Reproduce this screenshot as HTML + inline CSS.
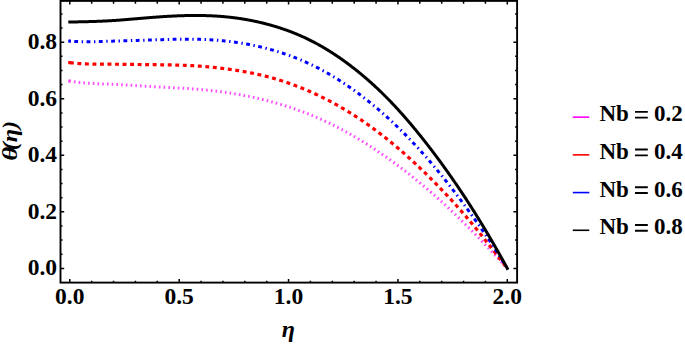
<!DOCTYPE html><html><head><meta charset="utf-8"><style>html,body{margin:0;padding:0;background:#fff;width:685px;height:344px;overflow:hidden}svg{display:block}text{font-family:"Liberation Serif",serif;font-weight:bold;fill:#000}</style></head><body>
<svg width="685" height="344" viewBox="0 0 685 344">
<path d="M68.2,81.10 L69.80,81.10 L70.30,81.18 L70.80,81.27 L71.30,81.35 L71.80,81.43 L72.30,81.50 L72.80,81.58 L73.30,81.65 L73.80,81.73 L74.30,81.80 L74.80,81.86 L75.30,81.93 L75.80,82.00 L76.30,82.06 L76.80,82.12 L77.30,82.18 L77.80,82.24 L78.30,82.30 L78.80,82.35 L79.30,82.41 L79.80,82.46 L80.30,82.52 L80.80,82.57 L81.30,82.61 L81.80,82.66 L82.30,82.71 L82.80,82.76 L83.30,82.80 L83.80,82.84 L84.30,82.89 L84.80,82.93 L85.30,82.97 L85.80,83.00 L86.30,83.04 L86.80,83.08 L87.30,83.12 L87.80,83.15 L88.30,83.18 L88.80,83.22 L89.30,83.25 L89.80,83.28 L90.30,83.31 L90.80,83.34 L91.30,83.37 L91.80,83.40 L92.30,83.43 L92.80,83.45 L93.30,83.48 L93.80,83.51 L94.30,83.53 L94.80,83.55 L95.30,83.58 L95.80,83.60 L96.30,83.63 L96.80,83.65 L97.30,83.67 L97.80,83.69 L98.30,83.71 L98.80,83.74 L99.30,83.76 L99.80,83.78 L100.30,83.80 L100.80,83.82 L101.30,83.84 L101.80,83.86 L102.30,83.88 L102.80,83.90 L103.30,83.92 L103.80,83.94 L104.30,83.95 L104.80,83.97 L105.30,83.99 L105.80,84.01 L106.30,84.03 L106.80,84.05 L107.30,84.07 L107.80,84.09 L108.30,84.11 L108.80,84.13 L109.30,84.15 L109.80,84.18 L110.30,84.20 L110.80,84.22 L111.30,84.24 L111.80,84.26 L112.30,84.29 L112.80,84.31 L113.30,84.33 L113.80,84.36 L114.30,84.38 L114.80,84.40 L115.30,84.43 L115.80,84.45 L116.30,84.48 L116.80,84.50 L117.30,84.53 L117.80,84.55 L118.30,84.58 L118.80,84.60 L119.30,84.63 L119.80,84.66 L120.30,84.68 L120.80,84.71 L121.30,84.74 L121.80,84.76 L122.30,84.79 L122.80,84.82 L123.30,84.85 L123.80,84.87 L124.30,84.90 L124.80,84.93 L125.30,84.96 L125.80,84.99 L126.30,85.01 L126.80,85.04 L127.30,85.07 L127.80,85.10 L128.30,85.13 L128.80,85.16 L129.30,85.19 L129.80,85.22 L130.30,85.25 L130.80,85.28 L131.30,85.31 L131.80,85.33 L132.30,85.36 L132.80,85.39 L133.30,85.42 L133.80,85.45 L134.30,85.48 L134.80,85.51 L135.30,85.54 L135.80,85.57 L136.30,85.60 L136.80,85.63 L137.30,85.66 L137.80,85.69 L138.30,85.72 L138.80,85.75 L139.30,85.78 L139.80,85.81 L140.30,85.84 L140.80,85.87 L141.30,85.90 L141.80,85.93 L142.30,85.96 L142.80,85.99 L143.30,86.02 L143.80,86.05 L144.30,86.08 L144.80,86.11 L145.30,86.14 L145.80,86.17 L146.30,86.20 L146.80,86.23 L147.30,86.26 L147.80,86.28 L148.30,86.31 L148.80,86.34 L149.30,86.37 L149.80,86.40 L150.30,86.43 L150.80,86.45 L151.30,86.48 L151.80,86.51 L152.30,86.54 L152.80,86.57 L153.30,86.59 L153.80,86.62 L154.30,86.65 L154.80,86.67 L155.30,86.70 L155.80,86.73 L156.30,86.76 L156.80,86.78 L157.30,86.81 L157.80,86.84 L158.30,86.86 L158.80,86.89 L159.30,86.92 L159.80,86.94 L160.30,86.97 L160.80,87.00 L161.30,87.02 L161.80,87.05 L162.30,87.08 L162.80,87.10 L163.30,87.13 L163.80,87.15 L164.30,87.18 L164.80,87.21 L165.30,87.23 L165.80,87.26 L166.30,87.29 L166.80,87.31 L167.30,87.34 L167.80,87.37 L168.30,87.40 L168.80,87.42 L169.30,87.45 L169.80,87.48 L170.30,87.50 L170.80,87.53 L171.30,87.56 L171.80,87.59 L172.30,87.61 L172.80,87.64 L173.30,87.67 L173.80,87.70 L174.30,87.73 L174.80,87.75 L175.30,87.78 L175.80,87.81 L176.30,87.84 L176.80,87.87 L177.30,87.90 L177.80,87.93 L178.30,87.96 L178.80,87.99 L179.30,88.02 L179.80,88.05 L180.30,88.08 L180.80,88.11 L181.30,88.14 L181.80,88.17 L182.30,88.20 L182.80,88.23 L183.30,88.26 L183.80,88.30 L184.30,88.33 L184.80,88.36 L185.30,88.39 L185.80,88.43 L186.30,88.46 L186.80,88.49 L187.30,88.53 L187.80,88.56 L188.30,88.60 L188.80,88.63 L189.30,88.67 L189.80,88.70 L190.30,88.74 L190.80,88.77 L191.30,88.81 L191.80,88.85 L192.30,88.88 L192.80,88.92 L193.30,88.96 L193.80,89.00 L194.30,89.04 L194.80,89.08 L195.30,89.11 L195.80,89.15 L196.30,89.19 L196.80,89.23 L197.30,89.28 L197.80,89.32 L198.30,89.36 L198.80,89.40 L199.30,89.44 L199.80,89.49 L200.30,89.53 L200.80,89.57 L201.30,89.62 L201.80,89.66 L202.30,89.71 L202.80,89.75 L203.30,89.80 L203.80,89.84 L204.30,89.89 L204.80,89.94 L205.30,89.99 L205.80,90.03 L206.30,90.08 L206.80,90.13 L207.30,90.18 L207.80,90.23 L208.30,90.28 L208.80,90.33 L209.30,90.38 L209.80,90.44 L210.30,90.49 L210.80,90.54 L211.30,90.60 L211.80,90.65 L212.30,90.70 L212.80,90.76 L213.30,90.82 L213.80,90.87 L214.30,90.93 L214.80,90.99 L215.30,91.04 L215.80,91.10 L216.30,91.16 L216.80,91.22 L217.30,91.28 L217.80,91.34 L218.30,91.40 L218.80,91.47 L219.30,91.53 L219.80,91.59 L220.30,91.66 L220.80,91.72 L221.30,91.79 L221.80,91.85 L222.30,91.92 L222.80,91.98 L223.30,92.05 L223.80,92.12 L224.30,92.19 L224.80,92.26 L225.30,92.33 L225.80,92.40 L226.30,92.47 L226.80,92.54 L227.30,92.62 L227.80,92.69 L228.30,92.76 L228.80,92.84 L229.30,92.91 L229.80,92.99 L230.30,93.07 L230.80,93.14 L231.30,93.22 L231.80,93.30 L232.30,93.38 L232.80,93.46 L233.30,93.54 L233.80,93.62 L234.30,93.71 L234.80,93.79 L235.30,93.87 L235.80,93.96 L236.30,94.04 L236.80,94.13 L237.30,94.22 L237.80,94.30 L238.30,94.39 L238.80,94.48 L239.30,94.57 L239.80,94.66 L240.30,94.75 L240.80,94.84 L241.30,94.93 L241.80,95.03 L242.30,95.12 L242.80,95.21 L243.30,95.31 L243.80,95.41 L244.30,95.50 L244.80,95.60 L245.30,95.70 L245.80,95.79 L246.30,95.89 L246.80,95.99 L247.30,96.09 L247.80,96.20 L248.30,96.30 L248.80,96.40 L249.30,96.50 L249.80,96.61 L250.30,96.71 L250.80,96.82 L251.30,96.93 L251.80,97.03 L252.30,97.14 L252.80,97.25 L253.30,97.36 L253.80,97.47 L254.30,97.58 L254.80,97.69 L255.30,97.80 L255.80,97.91 L256.30,98.03 L256.80,98.14 L257.30,98.25 L257.80,98.37 L258.30,98.49 L258.80,98.60 L259.30,98.72 L259.80,98.84 L260.30,98.96 L260.80,99.08 L261.30,99.20 L261.80,99.32 L262.30,99.44 L262.80,99.56 L263.30,99.69 L263.80,99.81 L264.30,99.93 L264.80,100.06 L265.30,100.19 L265.80,100.31 L266.30,100.44 L266.80,100.57 L267.30,100.70 L267.80,100.83 L268.30,100.96 L268.80,101.09 L269.30,101.22 L269.80,101.35 L270.30,101.48 L270.80,101.62 L271.30,101.75 L271.80,101.89 L272.30,102.02 L272.80,102.16 L273.30,102.30 L273.80,102.44 L274.30,102.57 L274.80,102.71 L275.30,102.85 L275.80,103.00 L276.30,103.14 L276.80,103.28 L277.30,103.42 L277.80,103.57 L278.30,103.71 L278.80,103.86 L279.30,104.00 L279.80,104.15 L280.30,104.30 L280.80,104.45 L281.30,104.60 L281.80,104.75 L282.30,104.90 L282.80,105.05 L283.30,105.20 L283.80,105.36 L284.30,105.51 L284.80,105.67 L285.30,105.82 L285.80,105.98 L286.30,106.14 L286.80,106.30 L287.30,106.46 L287.80,106.62 L288.30,106.78 L288.80,106.94 L289.30,107.10 L289.80,107.27 L290.30,107.43 L290.80,107.60 L291.30,107.76 L291.80,107.93 L292.30,108.10 L292.80,108.27 L293.30,108.44 L293.80,108.61 L294.30,108.78 L294.80,108.95 L295.30,109.12 L295.80,109.30 L296.30,109.47 L296.80,109.65 L297.30,109.83 L297.80,110.00 L298.30,110.18 L298.80,110.36 L299.30,110.54 L299.80,110.72 L300.30,110.91 L300.80,111.09 L301.30,111.27 L301.80,111.46 L302.30,111.65 L302.80,111.83 L303.30,112.02 L303.80,112.21 L304.30,112.40 L304.80,112.59 L305.30,112.78 L305.80,112.98 L306.30,113.17 L306.80,113.37 L307.30,113.56 L307.80,113.76 L308.30,113.96 L308.80,114.16 L309.30,114.36 L309.80,114.56 L310.30,114.76 L310.80,114.96 L311.30,115.17 L311.80,115.37 L312.30,115.58 L312.80,115.78 L313.30,115.99 L313.80,116.20 L314.30,116.41 L314.80,116.62 L315.30,116.83 L315.80,117.05 L316.30,117.26 L316.80,117.48 L317.30,117.69 L317.80,117.91 L318.30,118.13 L318.80,118.35 L319.30,118.57 L319.80,118.79 L320.30,119.01 L320.80,119.23 L321.30,119.46 L321.80,119.68 L322.30,119.91 L322.80,120.14 L323.30,120.37 L323.80,120.60 L324.30,120.83 L324.80,121.06 L325.30,121.29 L325.80,121.52 L326.30,121.76 L326.80,121.99 L327.30,122.23 L327.80,122.47 L328.30,122.71 L328.80,122.95 L329.30,123.19 L329.80,123.43 L330.30,123.67 L330.80,123.91 L331.30,124.16 L331.80,124.40 L332.30,124.65 L332.80,124.90 L333.30,125.15 L333.80,125.40 L334.30,125.65 L334.80,125.90 L335.30,126.15 L335.80,126.41 L336.30,126.66 L336.80,126.92 L337.30,127.17 L337.80,127.43 L338.30,127.69 L338.80,127.95 L339.30,128.21 L339.80,128.47 L340.30,128.74 L340.80,129.00 L341.30,129.26 L341.80,129.53 L342.30,129.80 L342.80,130.07 L343.30,130.33 L343.80,130.60 L344.30,130.88 L344.80,131.15 L345.30,131.42 L345.80,131.70 L346.30,131.97 L346.80,132.25 L347.30,132.52 L347.80,132.80 L348.30,133.08 L348.80,133.36 L349.30,133.64 L349.80,133.93 L350.30,134.21 L350.80,134.49 L351.30,134.78 L351.80,135.07 L352.30,135.35 L352.80,135.64 L353.30,135.93 L353.80,136.22 L354.30,136.51 L354.80,136.81 L355.30,137.10 L355.80,137.39 L356.30,137.69 L356.80,137.99 L357.30,138.28 L357.80,138.58 L358.30,138.88 L358.80,139.18 L359.30,139.48 L359.80,139.78 L360.30,140.09 L360.80,140.39 L361.30,140.70 L361.80,141.00 L362.30,141.31 L362.80,141.62 L363.30,141.93 L363.80,142.24 L364.30,142.55 L364.80,142.86 L365.30,143.18 L365.80,143.49 L366.30,143.81 L366.80,144.12 L367.30,144.44 L367.80,144.76 L368.30,145.07 L368.80,145.39 L369.30,145.72 L369.80,146.04 L370.30,146.36 L370.80,146.68 L371.30,147.01 L371.80,147.33 L372.30,147.66 L372.80,147.99 L373.30,148.32 L373.80,148.64 L374.30,148.97 L374.80,149.31 L375.30,149.64 L375.80,149.97 L376.30,150.30 L376.80,150.64 L377.30,150.97 L377.80,151.31 L378.30,151.65 L378.80,151.99 L379.30,152.33 L379.80,152.67 L380.30,153.01 L380.80,153.35 L381.30,153.69 L381.80,154.04 L382.30,154.38 L382.80,154.73 L383.30,155.07 L383.80,155.42 L384.30,155.77 L384.80,156.12 L385.30,156.47 L385.80,156.82 L386.30,157.17 L386.80,157.52 L387.30,157.88 L387.80,158.23 L388.30,158.59 L388.80,158.94 L389.30,159.30 L389.80,159.66 L390.30,160.02 L390.80,160.38 L391.30,160.74 L391.80,161.10 L392.30,161.46 L392.80,161.82 L393.30,162.19 L393.80,162.55 L394.30,162.92 L394.80,163.28 L395.30,163.65 L395.80,164.02 L396.30,164.39 L396.80,164.76 L397.30,165.13 L397.80,165.50 L398.30,165.87 L398.80,166.25 L399.30,166.62 L399.80,167.00 L400.30,167.37 L400.80,167.75 L401.30,168.13 L401.80,168.51 L402.30,168.89 L402.80,169.27 L403.30,169.65 L403.80,170.03 L404.30,170.42 L404.80,170.80 L405.30,171.19 L405.80,171.57 L406.30,171.96 L406.80,172.35 L407.30,172.74 L407.80,173.13 L408.30,173.52 L408.80,173.91 L409.30,174.30 L409.80,174.70 L410.30,175.09 L410.80,175.49 L411.30,175.89 L411.80,176.28 L412.30,176.68 L412.80,177.08 L413.30,177.48 L413.80,177.88 L414.30,178.28 L414.80,178.69 L415.30,179.09 L415.80,179.50 L416.30,179.90 L416.80,180.31 L417.30,180.72 L417.80,181.13 L418.30,181.54 L418.80,181.95 L419.30,182.36 L419.80,182.77 L420.30,183.18 L420.80,183.60 L421.30,184.01 L421.80,184.43 L422.30,184.85 L422.80,185.27 L423.30,185.69 L423.80,186.11 L424.30,186.53 L424.80,186.95 L425.30,187.37 L425.80,187.80 L426.30,188.22 L426.80,188.65 L427.30,189.08 L427.80,189.51 L428.30,189.94 L428.80,190.37 L429.30,190.80 L429.80,191.23 L430.30,191.66 L430.80,192.10 L431.30,192.53 L431.80,192.97 L432.30,193.41 L432.80,193.84 L433.30,194.28 L433.80,194.72 L434.30,195.16 L434.80,195.61 L435.30,196.05 L435.80,196.49 L436.30,196.94 L436.80,197.38 L437.30,197.83 L437.80,198.28 L438.30,198.73 L438.80,199.18 L439.30,199.63 L439.80,200.08 L440.30,200.53 L440.80,200.99 L441.30,201.44 L441.80,201.90 L442.30,202.35 L442.80,202.81 L443.30,203.27 L443.80,203.73 L444.30,204.19 L444.80,204.65 L445.30,205.11 L445.80,205.57 L446.30,206.04 L446.80,206.50 L447.30,206.97 L447.80,207.43 L448.30,207.90 L448.80,208.37 L449.30,208.84 L449.80,209.31 L450.30,209.78 L450.80,210.25 L451.30,210.72 L451.80,211.20 L452.30,211.67 L452.80,212.15 L453.30,212.62 L453.80,213.10 L454.30,213.58 L454.80,214.06 L455.30,214.54 L455.80,215.02 L456.30,215.50 L456.80,215.98 L457.30,216.46 L457.80,216.95 L458.30,217.43 L458.80,217.92 L459.30,218.40 L459.80,218.89 L460.30,219.38 L460.80,219.87 L461.30,220.36 L461.80,220.85 L462.30,221.34 L462.80,221.83 L463.30,222.32 L463.80,222.82 L464.30,223.31 L464.80,223.81 L465.30,224.30 L465.80,224.80 L466.30,225.30 L466.80,225.80 L467.30,226.30 L467.80,226.80 L468.30,227.30 L468.80,227.80 L469.30,228.30 L469.80,228.80 L470.30,229.31 L470.80,229.81 L471.30,230.32 L471.80,230.83 L472.30,231.33 L472.80,231.84 L473.30,232.35 L473.80,232.86 L474.30,233.37 L474.80,233.88 L475.30,234.39 L475.80,234.90 L476.30,235.42 L476.80,235.93 L477.30,236.44 L477.80,236.96 L478.30,237.47 L478.80,237.99 L479.30,238.51 L479.80,239.03 L480.30,239.54 L480.80,240.06 L481.30,240.58 L481.80,241.10 L482.30,241.62 L482.80,242.15 L483.30,242.67 L483.80,243.19 L484.30,243.72 L484.80,244.24 L485.30,244.77 L485.80,245.29 L486.30,245.82 L486.80,246.34 L487.30,246.87 L487.80,247.40 L488.30,247.93 L488.80,248.46 L489.30,248.99 L489.80,249.52 L490.30,250.05 L490.80,250.58 L491.30,251.11 L491.80,251.64 L492.30,252.18 L492.80,252.71 L493.30,253.24 L493.80,253.78 L494.30,254.31 L494.80,254.85 L495.30,255.39 L495.80,255.92 L496.30,256.46 L496.80,257.00 L497.30,257.54 L497.80,258.08 L498.30,258.61 L498.80,259.15 L499.30,259.69 L499.80,260.24 L500.30,260.78 L500.80,261.32 L501.30,261.86 L501.80,262.40 L502.30,262.95 L502.80,263.49 L503.30,264.03 L503.80,264.58 L504.30,265.12 L504.80,265.67 L505.30,266.21 L505.80,266.76 L506.30,267.31 L506.80,267.85 L507.30,268.40" fill="none" stroke="#ff4cff" stroke-width="3.0" stroke-dasharray="1.6 3.13" stroke-dashoffset="3.66"/>
<path d="M68.2,62.60 L69.80,62.60 L70.30,62.67 L70.80,62.73 L71.30,62.79 L71.80,62.85 L72.30,62.91 L72.80,62.97 L73.30,63.02 L73.80,63.08 L74.30,63.13 L74.80,63.18 L75.30,63.23 L75.80,63.27 L76.30,63.32 L76.80,63.36 L77.30,63.41 L77.80,63.45 L78.30,63.49 L78.80,63.52 L79.30,63.56 L79.80,63.60 L80.30,63.63 L80.80,63.66 L81.30,63.69 L81.80,63.73 L82.30,63.75 L82.80,63.78 L83.30,63.81 L83.80,63.83 L84.30,63.86 L84.80,63.88 L85.30,63.90 L85.80,63.93 L86.30,63.95 L86.80,63.97 L87.30,63.98 L87.80,64.00 L88.30,64.02 L88.80,64.03 L89.30,64.05 L89.80,64.06 L90.30,64.07 L90.80,64.09 L91.30,64.10 L91.80,64.11 L92.30,64.12 L92.80,64.13 L93.30,64.14 L93.80,64.14 L94.30,64.15 L94.80,64.16 L95.30,64.16 L95.80,64.17 L96.30,64.18 L96.80,64.18 L97.30,64.18 L97.80,64.19 L98.30,64.19 L98.80,64.19 L99.30,64.20 L99.80,64.20 L100.30,64.20 L100.80,64.20 L101.30,64.20 L101.80,64.21 L102.30,64.21 L102.80,64.21 L103.30,64.21 L103.80,64.21 L104.30,64.21 L104.80,64.21 L105.30,64.21 L105.80,64.21 L106.30,64.21 L106.80,64.21 L107.30,64.21 L107.80,64.21 L108.30,64.21 L108.80,64.21 L109.30,64.21 L109.80,64.22 L110.30,64.22 L110.80,64.22 L111.30,64.22 L111.80,64.22 L112.30,64.22 L112.80,64.23 L113.30,64.23 L113.80,64.23 L114.30,64.23 L114.80,64.24 L115.30,64.24 L115.80,64.24 L116.30,64.25 L116.80,64.25 L117.30,64.25 L117.80,64.26 L118.30,64.26 L118.80,64.27 L119.30,64.27 L119.80,64.27 L120.30,64.28 L120.80,64.28 L121.30,64.29 L121.80,64.29 L122.30,64.30 L122.80,64.30 L123.30,64.31 L123.80,64.31 L124.30,64.32 L124.80,64.33 L125.30,64.33 L125.80,64.34 L126.30,64.34 L126.80,64.35 L127.30,64.36 L127.80,64.36 L128.30,64.37 L128.80,64.37 L129.30,64.38 L129.80,64.39 L130.30,64.39 L130.80,64.40 L131.30,64.41 L131.80,64.41 L132.30,64.42 L132.80,64.43 L133.30,64.43 L133.80,64.44 L134.30,64.45 L134.80,64.45 L135.30,64.46 L135.80,64.47 L136.30,64.47 L136.80,64.48 L137.30,64.49 L137.80,64.49 L138.30,64.50 L138.80,64.51 L139.30,64.52 L139.80,64.52 L140.30,64.53 L140.80,64.54 L141.30,64.54 L141.80,64.55 L142.30,64.56 L142.80,64.56 L143.30,64.57 L143.80,64.58 L144.30,64.58 L144.80,64.59 L145.30,64.60 L145.80,64.60 L146.30,64.61 L146.80,64.62 L147.30,64.62 L147.80,64.63 L148.30,64.63 L148.80,64.64 L149.30,64.65 L149.80,64.65 L150.30,64.66 L150.80,64.66 L151.30,64.67 L151.80,64.67 L152.30,64.68 L152.80,64.68 L153.30,64.69 L153.80,64.70 L154.30,64.70 L154.80,64.71 L155.30,64.71 L155.80,64.72 L156.30,64.72 L156.80,64.73 L157.30,64.73 L157.80,64.74 L158.30,64.74 L158.80,64.75 L159.30,64.75 L159.80,64.76 L160.30,64.77 L160.80,64.77 L161.30,64.78 L161.80,64.78 L162.30,64.79 L162.80,64.80 L163.30,64.80 L163.80,64.81 L164.30,64.82 L164.80,64.82 L165.30,64.83 L165.80,64.84 L166.30,64.84 L166.80,64.85 L167.30,64.86 L167.80,64.87 L168.30,64.87 L168.80,64.88 L169.30,64.89 L169.80,64.90 L170.30,64.91 L170.80,64.92 L171.30,64.93 L171.80,64.94 L172.30,64.95 L172.80,64.96 L173.30,64.97 L173.80,64.98 L174.30,64.99 L174.80,65.00 L175.30,65.01 L175.80,65.03 L176.30,65.04 L176.80,65.05 L177.30,65.06 L177.80,65.08 L178.30,65.09 L178.80,65.11 L179.30,65.12 L179.80,65.14 L180.30,65.15 L180.80,65.17 L181.30,65.18 L181.80,65.20 L182.30,65.22 L182.80,65.24 L183.30,65.25 L183.80,65.27 L184.30,65.29 L184.80,65.31 L185.30,65.33 L185.80,65.35 L186.30,65.37 L186.80,65.39 L187.30,65.42 L187.80,65.44 L188.30,65.46 L188.80,65.49 L189.30,65.51 L189.80,65.54 L190.30,65.56 L190.80,65.59 L191.30,65.61 L191.80,65.64 L192.30,65.67 L192.80,65.70 L193.30,65.73 L193.80,65.76 L194.30,65.79 L194.80,65.82 L195.30,65.85 L195.80,65.88 L196.30,65.91 L196.80,65.94 L197.30,65.98 L197.80,66.01 L198.30,66.05 L198.80,66.08 L199.30,66.12 L199.80,66.15 L200.30,66.19 L200.80,66.23 L201.30,66.27 L201.80,66.30 L202.30,66.34 L202.80,66.38 L203.30,66.42 L203.80,66.46 L204.30,66.51 L204.80,66.55 L205.30,66.59 L205.80,66.63 L206.30,66.68 L206.80,66.72 L207.30,66.77 L207.80,66.81 L208.30,66.86 L208.80,66.90 L209.30,66.95 L209.80,67.00 L210.30,67.05 L210.80,67.10 L211.30,67.15 L211.80,67.20 L212.30,67.25 L212.80,67.30 L213.30,67.35 L213.80,67.40 L214.30,67.45 L214.80,67.51 L215.30,67.56 L215.80,67.62 L216.30,67.67 L216.80,67.73 L217.30,67.78 L217.80,67.84 L218.30,67.90 L218.80,67.95 L219.30,68.01 L219.80,68.07 L220.30,68.13 L220.80,68.19 L221.30,68.25 L221.80,68.31 L222.30,68.37 L222.80,68.44 L223.30,68.50 L223.80,68.56 L224.30,68.63 L224.80,68.69 L225.30,68.76 L225.80,68.82 L226.30,68.89 L226.80,68.95 L227.30,69.02 L227.80,69.09 L228.30,69.16 L228.80,69.23 L229.30,69.30 L229.80,69.37 L230.30,69.44 L230.80,69.51 L231.30,69.58 L231.80,69.65 L232.30,69.72 L232.80,69.80 L233.30,69.87 L233.80,69.95 L234.30,70.02 L234.80,70.10 L235.30,70.17 L235.80,70.25 L236.30,70.33 L236.80,70.41 L237.30,70.49 L237.80,70.57 L238.30,70.65 L238.80,70.73 L239.30,70.81 L239.80,70.89 L240.30,70.97 L240.80,71.06 L241.30,71.14 L241.80,71.23 L242.30,71.31 L242.80,71.40 L243.30,71.49 L243.80,71.57 L244.30,71.66 L244.80,71.75 L245.30,71.84 L245.80,71.93 L246.30,72.02 L246.80,72.12 L247.30,72.21 L247.80,72.30 L248.30,72.40 L248.80,72.49 L249.30,72.59 L249.80,72.69 L250.30,72.78 L250.80,72.88 L251.30,72.98 L251.80,73.08 L252.30,73.18 L252.80,73.29 L253.30,73.39 L253.80,73.49 L254.30,73.60 L254.80,73.70 L255.30,73.81 L255.80,73.92 L256.30,74.02 L256.80,74.13 L257.30,74.24 L257.80,74.35 L258.30,74.46 L258.80,74.58 L259.30,74.69 L259.80,74.81 L260.30,74.92 L260.80,75.04 L261.30,75.15 L261.80,75.27 L262.30,75.39 L262.80,75.51 L263.30,75.63 L263.80,75.76 L264.30,75.88 L264.80,76.00 L265.30,76.13 L265.80,76.25 L266.30,76.38 L266.80,76.51 L267.30,76.64 L267.80,76.77 L268.30,76.90 L268.80,77.03 L269.30,77.16 L269.80,77.30 L270.30,77.43 L270.80,77.57 L271.30,77.71 L271.80,77.85 L272.30,77.99 L272.80,78.13 L273.30,78.27 L273.80,78.41 L274.30,78.56 L274.80,78.70 L275.30,78.85 L275.80,78.99 L276.30,79.14 L276.80,79.29 L277.30,79.44 L277.80,79.59 L278.30,79.75 L278.80,79.90 L279.30,80.05 L279.80,80.21 L280.30,80.37 L280.80,80.52 L281.30,80.68 L281.80,80.84 L282.30,81.00 L282.80,81.17 L283.30,81.33 L283.80,81.49 L284.30,81.66 L284.80,81.82 L285.30,81.99 L285.80,82.16 L286.30,82.33 L286.80,82.50 L287.30,82.67 L287.80,82.84 L288.30,83.02 L288.80,83.19 L289.30,83.37 L289.80,83.55 L290.30,83.72 L290.80,83.90 L291.30,84.08 L291.80,84.26 L292.30,84.45 L292.80,84.63 L293.30,84.81 L293.80,85.00 L294.30,85.18 L294.80,85.37 L295.30,85.56 L295.80,85.75 L296.30,85.94 L296.80,86.13 L297.30,86.33 L297.80,86.52 L298.30,86.71 L298.80,86.91 L299.30,87.11 L299.80,87.31 L300.30,87.50 L300.80,87.70 L301.30,87.91 L301.80,88.11 L302.30,88.31 L302.80,88.52 L303.30,88.72 L303.80,88.93 L304.30,89.14 L304.80,89.34 L305.30,89.55 L305.80,89.76 L306.30,89.98 L306.80,90.19 L307.30,90.40 L307.80,90.62 L308.30,90.83 L308.80,91.05 L309.30,91.27 L309.80,91.49 L310.30,91.71 L310.80,91.93 L311.30,92.15 L311.80,92.38 L312.30,92.60 L312.80,92.83 L313.30,93.05 L313.80,93.28 L314.30,93.51 L314.80,93.74 L315.30,93.97 L315.80,94.20 L316.30,94.44 L316.80,94.67 L317.30,94.91 L317.80,95.14 L318.30,95.38 L318.80,95.62 L319.30,95.86 L319.80,96.10 L320.30,96.34 L320.80,96.58 L321.30,96.83 L321.80,97.07 L322.30,97.32 L322.80,97.57 L323.30,97.81 L323.80,98.06 L324.30,98.31 L324.80,98.57 L325.30,98.82 L325.80,99.07 L326.30,99.33 L326.80,99.58 L327.30,99.84 L327.80,100.10 L328.30,100.36 L328.80,100.62 L329.30,100.88 L329.80,101.14 L330.30,101.41 L330.80,101.67 L331.30,101.94 L331.80,102.21 L332.30,102.48 L332.80,102.75 L333.30,103.02 L333.80,103.29 L334.30,103.56 L334.80,103.84 L335.30,104.11 L335.80,104.39 L336.30,104.67 L336.80,104.94 L337.30,105.22 L337.80,105.51 L338.30,105.79 L338.80,106.07 L339.30,106.36 L339.80,106.64 L340.30,106.93 L340.80,107.22 L341.30,107.51 L341.80,107.80 L342.30,108.09 L342.80,108.38 L343.30,108.68 L343.80,108.97 L344.30,109.27 L344.80,109.56 L345.30,109.86 L345.80,110.16 L346.30,110.46 L346.80,110.77 L347.30,111.07 L347.80,111.37 L348.30,111.68 L348.80,111.99 L349.30,112.30 L349.80,112.60 L350.30,112.91 L350.80,113.23 L351.30,113.54 L351.80,113.85 L352.30,114.17 L352.80,114.49 L353.30,114.80 L353.80,115.12 L354.30,115.44 L354.80,115.76 L355.30,116.09 L355.80,116.41 L356.30,116.74 L356.80,117.06 L357.30,117.39 L357.80,117.72 L358.30,118.05 L358.80,118.38 L359.30,118.71 L359.80,119.04 L360.30,119.38 L360.80,119.71 L361.30,120.05 L361.80,120.39 L362.30,120.73 L362.80,121.07 L363.30,121.41 L363.80,121.76 L364.30,122.10 L364.80,122.45 L365.30,122.79 L365.80,123.14 L366.30,123.49 L366.80,123.84 L367.30,124.19 L367.80,124.54 L368.30,124.90 L368.80,125.25 L369.30,125.61 L369.80,125.97 L370.30,126.33 L370.80,126.69 L371.30,127.05 L371.80,127.41 L372.30,127.77 L372.80,128.14 L373.30,128.51 L373.80,128.87 L374.30,129.24 L374.80,129.61 L375.30,129.98 L375.80,130.36 L376.30,130.73 L376.80,131.10 L377.30,131.48 L377.80,131.86 L378.30,132.24 L378.80,132.62 L379.30,133.00 L379.80,133.38 L380.30,133.76 L380.80,134.15 L381.30,134.53 L381.80,134.92 L382.30,135.31 L382.80,135.70 L383.30,136.09 L383.80,136.48 L384.30,136.87 L384.80,137.27 L385.30,137.67 L385.80,138.06 L386.30,138.46 L386.80,138.86 L387.30,139.26 L387.80,139.66 L388.30,140.07 L388.80,140.47 L389.30,140.88 L389.80,141.28 L390.30,141.69 L390.80,142.10 L391.30,142.51 L391.80,142.92 L392.30,143.34 L392.80,143.75 L393.30,144.17 L393.80,144.58 L394.30,145.00 L394.80,145.42 L395.30,145.84 L395.80,146.26 L396.30,146.69 L396.80,147.11 L397.30,147.54 L397.80,147.96 L398.30,148.39 L398.80,148.82 L399.30,149.25 L399.80,149.68 L400.30,150.11 L400.80,150.55 L401.30,150.98 L401.80,151.42 L402.30,151.85 L402.80,152.29 L403.30,152.73 L403.80,153.17 L404.30,153.61 L404.80,154.06 L405.30,154.50 L405.80,154.95 L406.30,155.39 L406.80,155.84 L407.30,156.29 L407.80,156.74 L408.30,157.19 L408.80,157.64 L409.30,158.09 L409.80,158.55 L410.30,159.00 L410.80,159.46 L411.30,159.92 L411.80,160.38 L412.30,160.84 L412.80,161.30 L413.30,161.76 L413.80,162.22 L414.30,162.69 L414.80,163.15 L415.30,163.62 L415.80,164.08 L416.30,164.55 L416.80,165.02 L417.30,165.49 L417.80,165.96 L418.30,166.44 L418.80,166.91 L419.30,167.39 L419.80,167.86 L420.30,168.34 L420.80,168.82 L421.30,169.29 L421.80,169.77 L422.30,170.26 L422.80,170.74 L423.30,171.22 L423.80,171.70 L424.30,172.19 L424.80,172.68 L425.30,173.16 L425.80,173.65 L426.30,174.14 L426.80,174.63 L427.30,175.12 L427.80,175.61 L428.30,176.11 L428.80,176.60 L429.30,177.10 L429.80,177.59 L430.30,178.09 L430.80,178.59 L431.30,179.09 L431.80,179.59 L432.30,180.09 L432.80,180.59 L433.30,181.09 L433.80,181.60 L434.30,182.10 L434.80,182.61 L435.30,183.11 L435.80,183.62 L436.30,184.13 L436.80,184.64 L437.30,185.15 L437.80,185.67 L438.30,186.18 L438.80,186.69 L439.30,187.21 L439.80,187.73 L440.30,188.25 L440.80,188.76 L441.30,189.28 L441.80,189.81 L442.30,190.33 L442.80,190.85 L443.30,191.38 L443.80,191.90 L444.30,192.43 L444.80,192.96 L445.30,193.49 L445.80,194.02 L446.30,194.55 L446.80,195.08 L447.30,195.62 L447.80,196.15 L448.30,196.69 L448.80,197.23 L449.30,197.77 L449.80,198.31 L450.30,198.85 L450.80,199.39 L451.30,199.94 L451.80,200.48 L452.30,201.03 L452.80,201.58 L453.30,202.13 L453.80,202.68 L454.30,203.23 L454.80,203.78 L455.30,204.34 L455.80,204.89 L456.30,205.45 L456.80,206.01 L457.30,206.57 L457.80,207.13 L458.30,207.69 L458.80,208.26 L459.30,208.82 L459.80,209.39 L460.30,209.96 L460.80,210.53 L461.30,211.10 L461.80,211.67 L462.30,212.25 L462.80,212.82 L463.30,213.40 L463.80,213.98 L464.30,214.55 L464.80,215.14 L465.30,215.72 L465.80,216.30 L466.30,216.89 L466.80,217.47 L467.30,218.06 L467.80,218.65 L468.30,219.24 L468.80,219.84 L469.30,220.43 L469.80,221.03 L470.30,221.62 L470.80,222.22 L471.30,222.82 L471.80,223.42 L472.30,224.03 L472.80,224.63 L473.30,225.24 L473.80,225.84 L474.30,226.45 L474.80,227.06 L475.30,227.67 L475.80,228.29 L476.30,228.90 L476.80,229.52 L477.30,230.13 L477.80,230.75 L478.30,231.37 L478.80,231.99 L479.30,232.61 L479.80,233.23 L480.30,233.85 L480.80,234.48 L481.30,235.10 L481.80,235.73 L482.30,236.35 L482.80,236.98 L483.30,237.61 L483.80,238.24 L484.30,238.87 L484.80,239.50 L485.30,240.13 L485.80,240.77 L486.30,241.40 L486.80,242.03 L487.30,242.67 L487.80,243.30 L488.30,243.94 L488.80,244.58 L489.30,245.22 L489.80,245.85 L490.30,246.49 L490.80,247.13 L491.30,247.77 L491.80,248.41 L492.30,249.05 L492.80,249.70 L493.30,250.34 L493.80,250.98 L494.30,251.62 L494.80,252.27 L495.30,252.91 L495.80,253.55 L496.30,254.20 L496.80,254.84 L497.30,255.49 L497.80,256.13 L498.30,256.78 L498.80,257.42 L499.30,258.07 L499.80,258.71 L500.30,259.36 L500.80,260.01 L501.30,260.65 L501.80,261.30 L502.30,261.94 L502.80,262.59 L503.30,263.24 L503.80,263.88 L504.30,264.53 L504.80,265.17 L505.30,265.82 L505.80,266.46 L506.30,267.11 L506.80,267.76 L507.30,268.40" fill="none" stroke="#ff0000" stroke-width="3.2" stroke-dasharray="3.9 3.63" stroke-dashoffset="5.8"/>
<path d="M68.2,41.10 L69.80,41.10 L70.30,41.14 L70.80,41.18 L71.30,41.22 L71.80,41.26 L72.30,41.30 L72.80,41.33 L73.30,41.36 L73.80,41.40 L74.30,41.43 L74.80,41.45 L75.30,41.48 L75.80,41.51 L76.30,41.53 L76.80,41.56 L77.30,41.58 L77.80,41.60 L78.30,41.62 L78.80,41.64 L79.30,41.65 L79.80,41.67 L80.30,41.68 L80.80,41.70 L81.30,41.71 L81.80,41.72 L82.30,41.73 L82.80,41.74 L83.30,41.75 L83.80,41.76 L84.30,41.76 L84.80,41.77 L85.30,41.77 L85.80,41.77 L86.30,41.78 L86.80,41.78 L87.30,41.78 L87.80,41.78 L88.30,41.77 L88.80,41.77 L89.30,41.77 L89.80,41.77 L90.30,41.76 L90.80,41.76 L91.30,41.75 L91.80,41.74 L92.30,41.74 L92.80,41.73 L93.30,41.72 L93.80,41.71 L94.30,41.70 L94.80,41.69 L95.30,41.68 L95.80,41.67 L96.30,41.66 L96.80,41.65 L97.30,41.63 L97.80,41.62 L98.30,41.61 L98.80,41.59 L99.30,41.58 L99.80,41.56 L100.30,41.55 L100.80,41.53 L101.30,41.52 L101.80,41.50 L102.30,41.49 L102.80,41.47 L103.30,41.45 L103.80,41.44 L104.30,41.42 L104.80,41.40 L105.30,41.39 L105.80,41.37 L106.30,41.35 L106.80,41.34 L107.30,41.32 L107.80,41.30 L108.30,41.28 L108.80,41.27 L109.30,41.25 L109.80,41.23 L110.30,41.22 L110.80,41.20 L111.30,41.18 L111.80,41.17 L112.30,41.15 L112.80,41.13 L113.30,41.12 L113.80,41.10 L114.30,41.09 L114.80,41.07 L115.30,41.05 L115.80,41.04 L116.30,41.02 L116.80,41.01 L117.30,40.99 L117.80,40.98 L118.30,40.96 L118.80,40.95 L119.30,40.93 L119.80,40.92 L120.30,40.90 L120.80,40.89 L121.30,40.87 L121.80,40.86 L122.30,40.84 L122.80,40.83 L123.30,40.81 L123.80,40.80 L124.30,40.78 L124.80,40.77 L125.30,40.75 L125.80,40.74 L126.30,40.73 L126.80,40.71 L127.30,40.70 L127.80,40.68 L128.30,40.67 L128.80,40.65 L129.30,40.64 L129.80,40.63 L130.30,40.61 L130.80,40.60 L131.30,40.58 L131.80,40.57 L132.30,40.56 L132.80,40.54 L133.30,40.53 L133.80,40.51 L134.30,40.50 L134.80,40.48 L135.30,40.47 L135.80,40.46 L136.30,40.44 L136.80,40.43 L137.30,40.41 L137.80,40.40 L138.30,40.38 L138.80,40.37 L139.30,40.36 L139.80,40.34 L140.30,40.33 L140.80,40.31 L141.30,40.30 L141.80,40.28 L142.30,40.27 L142.80,40.25 L143.30,40.24 L143.80,40.22 L144.30,40.21 L144.80,40.19 L145.30,40.18 L145.80,40.16 L146.30,40.15 L146.80,40.13 L147.30,40.12 L147.80,40.10 L148.30,40.09 L148.80,40.07 L149.30,40.06 L149.80,40.04 L150.30,40.03 L150.80,40.01 L151.30,40.00 L151.80,39.98 L152.30,39.96 L152.80,39.95 L153.30,39.93 L153.80,39.92 L154.30,39.90 L154.80,39.88 L155.30,39.87 L155.80,39.85 L156.30,39.83 L156.80,39.82 L157.30,39.80 L157.80,39.79 L158.30,39.77 L158.80,39.75 L159.30,39.74 L159.80,39.72 L160.30,39.71 L160.80,39.69 L161.30,39.68 L161.80,39.66 L162.30,39.65 L162.80,39.63 L163.30,39.61 L163.80,39.60 L164.30,39.59 L164.80,39.57 L165.30,39.56 L165.80,39.54 L166.30,39.53 L166.80,39.51 L167.30,39.50 L167.80,39.49 L168.30,39.47 L168.80,39.46 L169.30,39.45 L169.80,39.43 L170.30,39.42 L170.80,39.41 L171.30,39.40 L171.80,39.38 L172.30,39.37 L172.80,39.36 L173.30,39.35 L173.80,39.34 L174.30,39.33 L174.80,39.32 L175.30,39.31 L175.80,39.30 L176.30,39.29 L176.80,39.28 L177.30,39.27 L177.80,39.26 L178.30,39.26 L178.80,39.25 L179.30,39.24 L179.80,39.23 L180.30,39.23 L180.80,39.22 L181.30,39.22 L181.80,39.21 L182.30,39.21 L182.80,39.20 L183.30,39.20 L183.80,39.19 L184.30,39.19 L184.80,39.19 L185.30,39.19 L185.80,39.18 L186.30,39.18 L186.80,39.18 L187.30,39.18 L187.80,39.18 L188.30,39.18 L188.80,39.19 L189.30,39.19 L189.80,39.19 L190.30,39.19 L190.80,39.20 L191.30,39.20 L191.80,39.20 L192.30,39.21 L192.80,39.22 L193.30,39.22 L193.80,39.23 L194.30,39.24 L194.80,39.24 L195.30,39.25 L195.80,39.26 L196.30,39.27 L196.80,39.28 L197.30,39.29 L197.80,39.31 L198.30,39.32 L198.80,39.33 L199.30,39.34 L199.80,39.36 L200.30,39.37 L200.80,39.39 L201.30,39.40 L201.80,39.42 L202.30,39.44 L202.80,39.46 L203.30,39.47 L203.80,39.49 L204.30,39.51 L204.80,39.53 L205.30,39.56 L205.80,39.58 L206.30,39.60 L206.80,39.62 L207.30,39.65 L207.80,39.67 L208.30,39.70 L208.80,39.72 L209.30,39.75 L209.80,39.78 L210.30,39.81 L210.80,39.84 L211.30,39.87 L211.80,39.90 L212.30,39.93 L212.80,39.96 L213.30,39.99 L213.80,40.02 L214.30,40.06 L214.80,40.09 L215.30,40.13 L215.80,40.17 L216.30,40.20 L216.80,40.24 L217.30,40.28 L217.80,40.32 L218.30,40.36 L218.80,40.40 L219.30,40.44 L219.80,40.48 L220.30,40.53 L220.80,40.57 L221.30,40.62 L221.80,40.66 L222.30,40.71 L222.80,40.76 L223.30,40.81 L223.80,40.85 L224.30,40.90 L224.80,40.96 L225.30,41.01 L225.80,41.06 L226.30,41.11 L226.80,41.17 L227.30,41.22 L227.80,41.28 L228.30,41.34 L228.80,41.39 L229.30,41.45 L229.80,41.51 L230.30,41.57 L230.80,41.63 L231.30,41.69 L231.80,41.76 L232.30,41.82 L232.80,41.89 L233.30,41.95 L233.80,42.02 L234.30,42.09 L234.80,42.15 L235.30,42.22 L235.80,42.29 L236.30,42.37 L236.80,42.44 L237.30,42.51 L237.80,42.58 L238.30,42.66 L238.80,42.73 L239.30,42.81 L239.80,42.89 L240.30,42.97 L240.80,43.05 L241.30,43.13 L241.80,43.21 L242.30,43.29 L242.80,43.37 L243.30,43.46 L243.80,43.54 L244.30,43.63 L244.80,43.71 L245.30,43.80 L245.80,43.89 L246.30,43.98 L246.80,44.07 L247.30,44.16 L247.80,44.26 L248.30,44.35 L248.80,44.44 L249.30,44.54 L249.80,44.64 L250.30,44.73 L250.80,44.83 L251.30,44.93 L251.80,45.03 L252.30,45.13 L252.80,45.23 L253.30,45.34 L253.80,45.44 L254.30,45.55 L254.80,45.65 L255.30,45.76 L255.80,45.87 L256.30,45.98 L256.80,46.09 L257.30,46.20 L257.80,46.31 L258.30,46.42 L258.80,46.54 L259.30,46.65 L259.80,46.77 L260.30,46.88 L260.80,47.00 L261.30,47.12 L261.80,47.24 L262.30,47.36 L262.80,47.48 L263.30,47.61 L263.80,47.73 L264.30,47.85 L264.80,47.98 L265.30,48.11 L265.80,48.23 L266.30,48.36 L266.80,48.49 L267.30,48.62 L267.80,48.76 L268.30,48.89 L268.80,49.02 L269.30,49.16 L269.80,49.30 L270.30,49.43 L270.80,49.57 L271.30,49.71 L271.80,49.85 L272.30,49.99 L272.80,50.13 L273.30,50.28 L273.80,50.42 L274.30,50.57 L274.80,50.72 L275.30,50.86 L275.80,51.01 L276.30,51.16 L276.80,51.31 L277.30,51.47 L277.80,51.62 L278.30,51.77 L278.80,51.93 L279.30,52.09 L279.80,52.24 L280.30,52.40 L280.80,52.56 L281.30,52.72 L281.80,52.89 L282.30,53.05 L282.80,53.21 L283.30,53.38 L283.80,53.55 L284.30,53.71 L284.80,53.88 L285.30,54.05 L285.80,54.23 L286.30,54.40 L286.80,54.57 L287.30,54.75 L287.80,54.93 L288.30,55.10 L288.80,55.28 L289.30,55.46 L289.80,55.64 L290.30,55.83 L290.80,56.01 L291.30,56.20 L291.80,56.38 L292.30,56.57 L292.80,56.76 L293.30,56.95 L293.80,57.14 L294.30,57.33 L294.80,57.53 L295.30,57.72 L295.80,57.92 L296.30,58.12 L296.80,58.31 L297.30,58.51 L297.80,58.72 L298.30,58.92 L298.80,59.12 L299.30,59.33 L299.80,59.54 L300.30,59.74 L300.80,59.95 L301.30,60.17 L301.80,60.38 L302.30,60.59 L302.80,60.81 L303.30,61.02 L303.80,61.24 L304.30,61.46 L304.80,61.68 L305.30,61.90 L305.80,62.12 L306.30,62.35 L306.80,62.58 L307.30,62.80 L307.80,63.03 L308.30,63.26 L308.80,63.49 L309.30,63.73 L309.80,63.96 L310.30,64.20 L310.80,64.43 L311.30,64.67 L311.80,64.91 L312.30,65.15 L312.80,65.40 L313.30,65.64 L313.80,65.89 L314.30,66.14 L314.80,66.38 L315.30,66.63 L315.80,66.89 L316.30,67.14 L316.80,67.39 L317.30,67.65 L317.80,67.91 L318.30,68.17 L318.80,68.43 L319.30,68.69 L319.80,68.95 L320.30,69.21 L320.80,69.48 L321.30,69.75 L321.80,70.02 L322.30,70.29 L322.80,70.56 L323.30,70.83 L323.80,71.10 L324.30,71.38 L324.80,71.66 L325.30,71.94 L325.80,72.21 L326.30,72.50 L326.80,72.78 L327.30,73.06 L327.80,73.35 L328.30,73.64 L328.80,73.92 L329.30,74.21 L329.80,74.50 L330.30,74.80 L330.80,75.09 L331.30,75.39 L331.80,75.68 L332.30,75.98 L332.80,76.28 L333.30,76.58 L333.80,76.88 L334.30,77.19 L334.80,77.49 L335.30,77.80 L335.80,78.11 L336.30,78.42 L336.80,78.73 L337.30,79.04 L337.80,79.35 L338.30,79.67 L338.80,79.99 L339.30,80.30 L339.80,80.62 L340.30,80.94 L340.80,81.26 L341.30,81.59 L341.80,81.91 L342.30,82.24 L342.80,82.57 L343.30,82.90 L343.80,83.23 L344.30,83.56 L344.80,83.89 L345.30,84.23 L345.80,84.56 L346.30,84.90 L346.80,85.24 L347.30,85.58 L347.80,85.92 L348.30,86.26 L348.80,86.61 L349.30,86.95 L349.80,87.30 L350.30,87.65 L350.80,88.00 L351.30,88.35 L351.80,88.70 L352.30,89.05 L352.80,89.41 L353.30,89.77 L353.80,90.12 L354.30,90.48 L354.80,90.84 L355.30,91.21 L355.80,91.57 L356.30,91.94 L356.80,92.30 L357.30,92.67 L357.80,93.04 L358.30,93.41 L358.80,93.78 L359.30,94.16 L359.80,94.53 L360.30,94.91 L360.80,95.28 L361.30,95.66 L361.80,96.04 L362.30,96.43 L362.80,96.81 L363.30,97.19 L363.80,97.58 L364.30,97.97 L364.80,98.36 L365.30,98.75 L365.80,99.14 L366.30,99.53 L366.80,99.93 L367.30,100.32 L367.80,100.72 L368.30,101.12 L368.80,101.52 L369.30,101.92 L369.80,102.32 L370.30,102.73 L370.80,103.13 L371.30,103.54 L371.80,103.95 L372.30,104.36 L372.80,104.77 L373.30,105.19 L373.80,105.60 L374.30,106.02 L374.80,106.43 L375.30,106.85 L375.80,107.27 L376.30,107.69 L376.80,108.12 L377.30,108.54 L377.80,108.97 L378.30,109.40 L378.80,109.83 L379.30,110.26 L379.80,110.69 L380.30,111.12 L380.80,111.56 L381.30,111.99 L381.80,112.43 L382.30,112.87 L382.80,113.31 L383.30,113.75 L383.80,114.19 L384.30,114.64 L384.80,115.09 L385.30,115.53 L385.80,115.98 L386.30,116.43 L386.80,116.88 L387.30,117.34 L387.80,117.79 L388.30,118.25 L388.80,118.71 L389.30,119.17 L389.80,119.63 L390.30,120.09 L390.80,120.55 L391.30,121.02 L391.80,121.49 L392.30,121.95 L392.80,122.42 L393.30,122.90 L393.80,123.37 L394.30,123.84 L394.80,124.32 L395.30,124.79 L395.80,125.27 L396.30,125.75 L396.80,126.23 L397.30,126.72 L397.80,127.20 L398.30,127.69 L398.80,128.18 L399.30,128.66 L399.80,129.15 L400.30,129.65 L400.80,130.14 L401.30,130.63 L401.80,131.13 L402.30,131.63 L402.80,132.13 L403.30,132.63 L403.80,133.13 L404.30,133.64 L404.80,134.14 L405.30,134.65 L405.80,135.16 L406.30,135.67 L406.80,136.18 L407.30,136.69 L407.80,137.20 L408.30,137.72 L408.80,138.24 L409.30,138.76 L409.80,139.28 L410.30,139.80 L410.80,140.32 L411.30,140.85 L411.80,141.37 L412.30,141.90 L412.80,142.43 L413.30,142.96 L413.80,143.49 L414.30,144.03 L414.80,144.56 L415.30,145.10 L415.80,145.64 L416.30,146.18 L416.80,146.72 L417.30,147.26 L417.80,147.81 L418.30,148.35 L418.80,148.90 L419.30,149.45 L419.80,150.00 L420.30,150.55 L420.80,151.10 L421.30,151.66 L421.80,152.22 L422.30,152.78 L422.80,153.33 L423.30,153.90 L423.80,154.46 L424.30,155.02 L424.80,155.59 L425.30,156.16 L425.80,156.73 L426.30,157.30 L426.80,157.87 L427.30,158.44 L427.80,159.02 L428.30,159.59 L428.80,160.17 L429.30,160.75 L429.80,161.33 L430.30,161.92 L430.80,162.50 L431.30,163.09 L431.80,163.67 L432.30,164.26 L432.80,164.85 L433.30,165.45 L433.80,166.04 L434.30,166.64 L434.80,167.23 L435.30,167.83 L435.80,168.43 L436.30,169.03 L436.80,169.63 L437.30,170.24 L437.80,170.84 L438.30,171.45 L438.80,172.06 L439.30,172.67 L439.80,173.28 L440.30,173.89 L440.80,174.51 L441.30,175.12 L441.80,175.74 L442.30,176.36 L442.80,176.98 L443.30,177.60 L443.80,178.22 L444.30,178.85 L444.80,179.47 L445.30,180.10 L445.80,180.73 L446.30,181.36 L446.80,181.99 L447.30,182.62 L447.80,183.25 L448.30,183.89 L448.80,184.53 L449.30,185.16 L449.80,185.80 L450.30,186.44 L450.80,187.09 L451.30,187.73 L451.80,188.37 L452.30,189.02 L452.80,189.67 L453.30,190.31 L453.80,190.96 L454.30,191.62 L454.80,192.27 L455.30,192.92 L455.80,193.58 L456.30,194.23 L456.80,194.89 L457.30,195.55 L457.80,196.21 L458.30,196.87 L458.80,197.53 L459.30,198.19 L459.80,198.86 L460.30,199.53 L460.80,200.19 L461.30,200.86 L461.80,201.53 L462.30,202.20 L462.80,202.87 L463.30,203.55 L463.80,204.22 L464.30,204.90 L464.80,205.57 L465.30,206.25 L465.80,206.93 L466.30,207.61 L466.80,208.29 L467.30,208.98 L467.80,209.66 L468.30,210.34 L468.80,211.03 L469.30,211.72 L469.80,212.41 L470.30,213.10 L470.80,213.79 L471.30,214.48 L471.80,215.17 L472.30,215.86 L472.80,216.56 L473.30,217.26 L473.80,217.95 L474.30,218.65 L474.80,219.35 L475.30,220.05 L475.80,220.76 L476.30,221.46 L476.80,222.17 L477.30,222.87 L477.80,223.58 L478.30,224.29 L478.80,225.00 L479.30,225.72 L479.80,226.43 L480.30,227.14 L480.80,227.86 L481.30,228.58 L481.80,229.30 L482.30,230.02 L482.80,230.74 L483.30,231.47 L483.80,232.19 L484.30,232.92 L484.80,233.65 L485.30,234.38 L485.80,235.11 L486.30,235.85 L486.80,236.58 L487.30,237.32 L487.80,238.06 L488.30,238.80 L488.80,239.54 L489.30,240.29 L489.80,241.03 L490.30,241.78 L490.80,242.53 L491.30,243.28 L491.80,244.04 L492.30,244.79 L492.80,245.55 L493.30,246.31 L493.80,247.07 L494.30,247.83 L494.80,248.60 L495.30,249.36 L495.80,250.13 L496.30,250.90 L496.80,251.68 L497.30,252.45 L497.80,253.23 L498.30,254.01 L498.80,254.79 L499.30,255.57 L499.80,256.36 L500.30,257.14 L500.80,257.93 L501.30,258.72 L501.80,259.52 L502.30,260.31 L502.80,261.11 L503.30,261.91 L503.80,262.72 L504.30,263.52 L504.80,264.33 L505.30,265.14 L505.80,265.95 L506.30,266.76 L506.80,267.58 L507.30,268.40" fill="none" stroke="#0000ff" stroke-width="3.0" stroke-dasharray="3.8 3.6 1.4 3.5" stroke-dashoffset="6.2"/>
<path d="M69.8,22.05 L69.80,22.05 L70.30,22.04 L70.80,22.03 L71.30,22.02 L71.80,22.01 L72.30,22.00 L72.80,21.99 L73.30,21.98 L73.80,21.97 L74.30,21.96 L74.80,21.95 L75.30,21.94 L75.80,21.93 L76.30,21.92 L76.80,21.91 L77.30,21.89 L77.80,21.88 L78.30,21.87 L78.80,21.86 L79.30,21.85 L79.80,21.84 L80.30,21.83 L80.80,21.82 L81.30,21.81 L81.80,21.80 L82.30,21.78 L82.80,21.77 L83.30,21.76 L83.80,21.75 L84.30,21.74 L84.80,21.72 L85.30,21.71 L85.80,21.70 L86.30,21.69 L86.80,21.67 L87.30,21.66 L87.80,21.65 L88.30,21.63 L88.80,21.62 L89.30,21.61 L89.80,21.59 L90.30,21.58 L90.80,21.56 L91.30,21.55 L91.80,21.53 L92.30,21.52 L92.80,21.50 L93.30,21.49 L93.80,21.47 L94.30,21.45 L94.80,21.44 L95.30,21.42 L95.80,21.40 L96.30,21.38 L96.80,21.37 L97.30,21.35 L97.80,21.33 L98.30,21.31 L98.80,21.29 L99.30,21.27 L99.80,21.25 L100.30,21.23 L100.80,21.21 L101.30,21.19 L101.80,21.16 L102.30,21.14 L102.80,21.12 L103.30,21.10 L103.80,21.07 L104.30,21.05 L104.80,21.03 L105.30,21.00 L105.80,20.98 L106.30,20.95 L106.80,20.92 L107.30,20.90 L107.80,20.87 L108.30,20.84 L108.80,20.82 L109.30,20.79 L109.80,20.76 L110.30,20.73 L110.80,20.70 L111.30,20.67 L111.80,20.64 L112.30,20.61 L112.80,20.58 L113.30,20.54 L113.80,20.51 L114.30,20.48 L114.80,20.44 L115.30,20.41 L115.80,20.38 L116.30,20.34 L116.80,20.31 L117.30,20.27 L117.80,20.24 L118.30,20.20 L118.80,20.16 L119.30,20.13 L119.80,20.09 L120.30,20.05 L120.80,20.01 L121.30,19.98 L121.80,19.94 L122.30,19.90 L122.80,19.86 L123.30,19.82 L123.80,19.78 L124.30,19.74 L124.80,19.70 L125.30,19.66 L125.80,19.62 L126.30,19.58 L126.80,19.54 L127.30,19.50 L127.80,19.46 L128.30,19.41 L128.80,19.37 L129.30,19.33 L129.80,19.29 L130.30,19.25 L130.80,19.21 L131.30,19.16 L131.80,19.12 L132.30,19.08 L132.80,19.04 L133.30,18.99 L133.80,18.95 L134.30,18.91 L134.80,18.87 L135.30,18.82 L135.80,18.78 L136.30,18.74 L136.80,18.69 L137.30,18.65 L137.80,18.61 L138.30,18.56 L138.80,18.52 L139.30,18.48 L139.80,18.44 L140.30,18.39 L140.80,18.35 L141.30,18.31 L141.80,18.27 L142.30,18.22 L142.80,18.18 L143.30,18.14 L143.80,18.10 L144.30,18.05 L144.80,18.01 L145.30,17.97 L145.80,17.93 L146.30,17.89 L146.80,17.85 L147.30,17.80 L147.80,17.76 L148.30,17.72 L148.80,17.68 L149.30,17.64 L149.80,17.60 L150.30,17.56 L150.80,17.52 L151.30,17.48 L151.80,17.44 L152.30,17.40 L152.80,17.37 L153.30,17.33 L153.80,17.29 L154.30,17.25 L154.80,17.21 L155.30,17.18 L155.80,17.14 L156.30,17.10 L156.80,17.07 L157.30,17.03 L157.80,16.99 L158.30,16.96 L158.80,16.92 L159.30,16.89 L159.80,16.85 L160.30,16.82 L160.80,16.79 L161.30,16.75 L161.80,16.72 L162.30,16.69 L162.80,16.65 L163.30,16.62 L163.80,16.59 L164.30,16.56 L164.80,16.53 L165.30,16.49 L165.80,16.46 L166.30,16.43 L166.80,16.40 L167.30,16.37 L167.80,16.35 L168.30,16.32 L168.80,16.29 L169.30,16.26 L169.80,16.23 L170.30,16.21 L170.80,16.18 L171.30,16.15 L171.80,16.13 L172.30,16.10 L172.80,16.08 L173.30,16.05 L173.80,16.03 L174.30,16.01 L174.80,15.98 L175.30,15.96 L175.80,15.94 L176.30,15.92 L176.80,15.90 L177.30,15.87 L177.80,15.85 L178.30,15.83 L178.80,15.81 L179.30,15.80 L179.80,15.78 L180.30,15.76 L180.80,15.74 L181.30,15.73 L181.80,15.71 L182.30,15.69 L182.80,15.68 L183.30,15.66 L183.80,15.65 L184.30,15.64 L184.80,15.62 L185.30,15.61 L185.80,15.60 L186.30,15.59 L186.80,15.57 L187.30,15.56 L187.80,15.55 L188.30,15.55 L188.80,15.54 L189.30,15.53 L189.80,15.52 L190.30,15.51 L190.80,15.51 L191.30,15.50 L191.80,15.50 L192.30,15.49 L192.80,15.49 L193.30,15.48 L193.80,15.48 L194.30,15.48 L194.80,15.48 L195.30,15.48 L195.80,15.48 L196.30,15.48 L196.80,15.48 L197.30,15.48 L197.80,15.48 L198.30,15.49 L198.80,15.49 L199.30,15.49 L199.80,15.50 L200.30,15.51 L200.80,15.51 L201.30,15.52 L201.80,15.53 L202.30,15.54 L202.80,15.54 L203.30,15.55 L203.80,15.57 L204.30,15.58 L204.80,15.59 L205.30,15.60 L205.80,15.62 L206.30,15.63 L206.80,15.64 L207.30,15.66 L207.80,15.68 L208.30,15.69 L208.80,15.71 L209.30,15.73 L209.80,15.75 L210.30,15.77 L210.80,15.79 L211.30,15.82 L211.80,15.84 L212.30,15.86 L212.80,15.89 L213.30,15.91 L213.80,15.94 L214.30,15.96 L214.80,15.99 L215.30,16.02 L215.80,16.05 L216.30,16.08 L216.80,16.11 L217.30,16.14 L217.80,16.18 L218.30,16.21 L218.80,16.24 L219.30,16.28 L219.80,16.32 L220.30,16.35 L220.80,16.39 L221.30,16.43 L221.80,16.47 L222.30,16.51 L222.80,16.55 L223.30,16.59 L223.80,16.64 L224.30,16.68 L224.80,16.73 L225.30,16.77 L225.80,16.82 L226.30,16.87 L226.80,16.92 L227.30,16.97 L227.80,17.02 L228.30,17.07 L228.80,17.12 L229.30,17.17 L229.80,17.23 L230.30,17.28 L230.80,17.34 L231.30,17.40 L231.80,17.46 L232.30,17.52 L232.80,17.58 L233.30,17.64 L233.80,17.70 L234.30,17.76 L234.80,17.83 L235.30,17.89 L235.80,17.96 L236.30,18.03 L236.80,18.10 L237.30,18.17 L237.80,18.24 L238.30,18.31 L238.80,18.38 L239.30,18.45 L239.80,18.53 L240.30,18.60 L240.80,18.68 L241.30,18.76 L241.80,18.83 L242.30,18.91 L242.80,18.99 L243.30,19.08 L243.80,19.16 L244.30,19.24 L244.80,19.33 L245.30,19.41 L245.80,19.50 L246.30,19.59 L246.80,19.67 L247.30,19.76 L247.80,19.86 L248.30,19.95 L248.80,20.04 L249.30,20.13 L249.80,20.23 L250.30,20.32 L250.80,20.42 L251.30,20.52 L251.80,20.62 L252.30,20.72 L252.80,20.82 L253.30,20.92 L253.80,21.02 L254.30,21.13 L254.80,21.23 L255.30,21.34 L255.80,21.45 L256.30,21.56 L256.80,21.67 L257.30,21.78 L257.80,21.89 L258.30,22.00 L258.80,22.11 L259.30,22.23 L259.80,22.35 L260.30,22.46 L260.80,22.58 L261.30,22.70 L261.80,22.82 L262.30,22.94 L262.80,23.06 L263.30,23.19 L263.80,23.31 L264.30,23.44 L264.80,23.56 L265.30,23.69 L265.80,23.82 L266.30,23.95 L266.80,24.08 L267.30,24.22 L267.80,24.35 L268.30,24.48 L268.80,24.62 L269.30,24.76 L269.80,24.89 L270.30,25.03 L270.80,25.17 L271.30,25.31 L271.80,25.46 L272.30,25.60 L272.80,25.74 L273.30,25.89 L273.80,26.04 L274.30,26.18 L274.80,26.33 L275.30,26.48 L275.80,26.64 L276.30,26.79 L276.80,26.94 L277.30,27.10 L277.80,27.25 L278.30,27.41 L278.80,27.57 L279.30,27.73 L279.80,27.89 L280.30,28.05 L280.80,28.22 L281.30,28.38 L281.80,28.55 L282.30,28.72 L282.80,28.89 L283.30,29.06 L283.80,29.23 L284.30,29.40 L284.80,29.58 L285.30,29.75 L285.80,29.93 L286.30,30.11 L286.80,30.28 L287.30,30.47 L287.80,30.65 L288.30,30.83 L288.80,31.02 L289.30,31.20 L289.80,31.39 L290.30,31.58 L290.80,31.77 L291.30,31.96 L291.80,32.15 L292.30,32.35 L292.80,32.54 L293.30,32.74 L293.80,32.94 L294.30,33.14 L294.80,33.34 L295.30,33.54 L295.80,33.75 L296.30,33.96 L296.80,34.16 L297.30,34.37 L297.80,34.58 L298.30,34.79 L298.80,35.01 L299.30,35.22 L299.80,35.44 L300.30,35.66 L300.80,35.88 L301.30,36.10 L301.80,36.32 L302.30,36.54 L302.80,36.77 L303.30,37.00 L303.80,37.22 L304.30,37.45 L304.80,37.69 L305.30,37.92 L305.80,38.15 L306.30,38.39 L306.80,38.63 L307.30,38.87 L307.80,39.11 L308.30,39.35 L308.80,39.60 L309.30,39.84 L309.80,40.09 L310.30,40.34 L310.80,40.59 L311.30,40.85 L311.80,41.10 L312.30,41.36 L312.80,41.61 L313.30,41.87 L313.80,42.13 L314.30,42.40 L314.80,42.66 L315.30,42.93 L315.80,43.20 L316.30,43.46 L316.80,43.74 L317.30,44.01 L317.80,44.28 L318.30,44.56 L318.80,44.84 L319.30,45.11 L319.80,45.40 L320.30,45.68 L320.80,45.96 L321.30,46.25 L321.80,46.53 L322.30,46.82 L322.80,47.11 L323.30,47.41 L323.80,47.70 L324.30,47.99 L324.80,48.29 L325.30,48.59 L325.80,48.89 L326.30,49.19 L326.80,49.50 L327.30,49.80 L327.80,50.11 L328.30,50.41 L328.80,50.72 L329.30,51.04 L329.80,51.35 L330.30,51.66 L330.80,51.98 L331.30,52.30 L331.80,52.62 L332.30,52.94 L332.80,53.26 L333.30,53.59 L333.80,53.91 L334.30,54.24 L334.80,54.57 L335.30,54.90 L335.80,55.23 L336.30,55.57 L336.80,55.90 L337.30,56.24 L337.80,56.58 L338.30,56.92 L338.80,57.26 L339.30,57.60 L339.80,57.95 L340.30,58.29 L340.80,58.64 L341.30,58.99 L341.80,59.34 L342.30,59.70 L342.80,60.05 L343.30,60.41 L343.80,60.77 L344.30,61.13 L344.80,61.49 L345.30,61.85 L345.80,62.21 L346.30,62.58 L346.80,62.95 L347.30,63.31 L347.80,63.69 L348.30,64.06 L348.80,64.43 L349.30,64.81 L349.80,65.18 L350.30,65.56 L350.80,65.94 L351.30,66.32 L351.80,66.71 L352.30,67.09 L352.80,67.48 L353.30,67.86 L353.80,68.25 L354.30,68.65 L354.80,69.04 L355.30,69.43 L355.80,69.83 L356.30,70.23 L356.80,70.62 L357.30,71.03 L357.80,71.43 L358.30,71.83 L358.80,72.24 L359.30,72.65 L359.80,73.05 L360.30,73.47 L360.80,73.88 L361.30,74.29 L361.80,74.71 L362.30,75.12 L362.80,75.54 L363.30,75.96 L363.80,76.39 L364.30,76.81 L364.80,77.24 L365.30,77.66 L365.80,78.09 L366.30,78.53 L366.80,78.96 L367.30,79.39 L367.80,79.83 L368.30,80.27 L368.80,80.71 L369.30,81.15 L369.80,81.59 L370.30,82.04 L370.80,82.48 L371.30,82.93 L371.80,83.38 L372.30,83.83 L372.80,84.29 L373.30,84.74 L373.80,85.20 L374.30,85.66 L374.80,86.12 L375.30,86.58 L375.80,87.05 L376.30,87.51 L376.80,87.98 L377.30,88.45 L377.80,88.92 L378.30,89.39 L378.80,89.87 L379.30,90.35 L379.80,90.82 L380.30,91.31 L380.80,91.79 L381.30,92.27 L381.80,92.76 L382.30,93.25 L382.80,93.74 L383.30,94.23 L383.80,94.72 L384.30,95.22 L384.80,95.72 L385.30,96.21 L385.80,96.72 L386.30,97.22 L386.80,97.72 L387.30,98.23 L387.80,98.74 L388.30,99.25 L388.80,99.76 L389.30,100.28 L389.80,100.79 L390.30,101.31 L390.80,101.83 L391.30,102.35 L391.80,102.88 L392.30,103.40 L392.80,103.93 L393.30,104.46 L393.80,104.99 L394.30,105.53 L394.80,106.06 L395.30,106.60 L395.80,107.14 L396.30,107.68 L396.80,108.22 L397.30,108.77 L397.80,109.31 L398.30,109.86 L398.80,110.41 L399.30,110.96 L399.80,111.52 L400.30,112.07 L400.80,112.63 L401.30,113.19 L401.80,113.75 L402.30,114.31 L402.80,114.87 L403.30,115.44 L403.80,116.01 L404.30,116.58 L404.80,117.15 L405.30,117.72 L405.80,118.30 L406.30,118.87 L406.80,119.45 L407.30,120.03 L407.80,120.61 L408.30,121.20 L408.80,121.78 L409.30,122.37 L409.80,122.96 L410.30,123.55 L410.80,124.14 L411.30,124.73 L411.80,125.33 L412.30,125.92 L412.80,126.52 L413.30,127.12 L413.80,127.72 L414.30,128.33 L414.80,128.93 L415.30,129.54 L415.80,130.15 L416.30,130.76 L416.80,131.37 L417.30,131.98 L417.80,132.59 L418.30,133.21 L418.80,133.83 L419.30,134.45 L419.80,135.07 L420.30,135.69 L420.80,136.31 L421.30,136.94 L421.80,137.57 L422.30,138.20 L422.80,138.83 L423.30,139.46 L423.80,140.09 L424.30,140.72 L424.80,141.36 L425.30,142.00 L425.80,142.64 L426.30,143.28 L426.80,143.92 L427.30,144.56 L427.80,145.21 L428.30,145.85 L428.80,146.50 L429.30,147.15 L429.80,147.80 L430.30,148.45 L430.80,149.11 L431.30,149.76 L431.80,150.42 L432.30,151.08 L432.80,151.74 L433.30,152.40 L433.80,153.06 L434.30,153.72 L434.80,154.39 L435.30,155.05 L435.80,155.72 L436.30,156.39 L436.80,157.06 L437.30,157.74 L437.80,158.41 L438.30,159.09 L438.80,159.76 L439.30,160.44 L439.80,161.12 L440.30,161.80 L440.80,162.49 L441.30,163.17 L441.80,163.86 L442.30,164.55 L442.80,165.23 L443.30,165.93 L443.80,166.62 L444.30,167.31 L444.80,168.01 L445.30,168.70 L445.80,169.40 L446.30,170.10 L446.80,170.80 L447.30,171.51 L447.80,172.21 L448.30,172.92 L448.80,173.63 L449.30,174.34 L449.80,175.05 L450.30,175.76 L450.80,176.47 L451.30,177.19 L451.80,177.91 L452.30,178.63 L452.80,179.35 L453.30,180.07 L453.80,180.79 L454.30,181.52 L454.80,182.25 L455.30,182.98 L455.80,183.71 L456.30,184.44 L456.80,185.17 L457.30,185.91 L457.80,186.64 L458.30,187.38 L458.80,188.12 L459.30,188.87 L459.80,189.61 L460.30,190.35 L460.80,191.10 L461.30,191.85 L461.80,192.60 L462.30,193.35 L462.80,194.11 L463.30,194.86 L463.80,195.62 L464.30,196.38 L464.80,197.14 L465.30,197.90 L465.80,198.67 L466.30,199.43 L466.80,200.20 L467.30,200.97 L467.80,201.74 L468.30,202.51 L468.80,203.29 L469.30,204.06 L469.80,204.84 L470.30,205.62 L470.80,206.40 L471.30,207.19 L471.80,207.97 L472.30,208.76 L472.80,209.55 L473.30,210.34 L473.80,211.13 L474.30,211.92 L474.80,212.72 L475.30,213.52 L475.80,214.31 L476.30,215.12 L476.80,215.92 L477.30,216.72 L477.80,217.53 L478.30,218.34 L478.80,219.15 L479.30,219.96 L479.80,220.77 L480.30,221.59 L480.80,222.41 L481.30,223.22 L481.80,224.05 L482.30,224.87 L482.80,225.69 L483.30,226.52 L483.80,227.35 L484.30,228.18 L484.80,229.01 L485.30,229.84 L485.80,230.68 L486.30,231.52 L486.80,232.36 L487.30,233.20 L487.80,234.04 L488.30,234.88 L488.80,235.73 L489.30,236.58 L489.80,237.43 L490.30,238.28 L490.80,239.14 L491.30,239.99 L491.80,240.85 L492.30,241.71 L492.80,242.57 L493.30,243.44 L493.80,244.30 L494.30,245.17 L494.80,246.04 L495.30,246.91 L495.80,247.78 L496.30,248.66 L496.80,249.54 L497.30,250.41 L497.80,251.30 L498.30,252.18 L498.80,253.06 L499.30,253.95 L499.80,254.84 L500.30,255.73 L500.80,256.62 L501.30,257.52 L501.80,258.41 L502.30,259.31 L502.80,260.21 L503.30,261.11 L503.80,262.02 L504.30,262.92 L504.80,263.83 L505.30,264.74 L505.80,265.65 L506.30,266.57 L506.80,267.48 L507.30,268.40" fill="none" stroke="#000" stroke-width="3.0" stroke-linecap="square"/>
<path d="M68.2,81.10H70.2" stroke="#ff4cff" stroke-width="3.0"/>
<path d="M68.2,62.60H70.5" stroke="#ff0000" stroke-width="3.2"/>
<path d="M68.2,41.10H70.6" stroke="#0000ff" stroke-width="3.0"/>
<rect x="60.5" y="0.9" width="456.6" height="281.70000000000005" fill="none" stroke="#000" stroke-width="1.9"/>
<path d="M69.80,282.6v-3.7M69.80,0.9v3.7M91.67,282.6v-1.8M91.67,0.9v2.9M113.55,282.6v-1.8M113.55,0.9v2.9M135.43,282.6v-1.8M135.43,0.9v2.9M157.30,282.6v-1.8M157.30,0.9v2.9M179.18,282.6v-3.7M179.18,0.9v3.7M201.05,282.6v-1.8M201.05,0.9v2.9M222.93,282.6v-1.8M222.93,0.9v2.9M244.80,282.6v-1.8M244.80,0.9v2.9M266.68,282.6v-1.8M266.68,0.9v2.9M288.55,282.6v-3.7M288.55,0.9v3.7M310.43,282.6v-1.8M310.43,0.9v2.9M332.30,282.6v-1.8M332.30,0.9v2.9M354.18,282.6v-1.8M354.18,0.9v2.9M376.05,282.6v-1.8M376.05,0.9v2.9M397.93,282.6v-3.7M397.93,0.9v3.7M419.80,282.6v-1.8M419.80,0.9v2.9M441.68,282.6v-1.8M441.68,0.9v2.9M463.55,282.6v-1.8M463.55,0.9v2.9M485.43,282.6v-1.8M485.43,0.9v2.9M507.30,282.6v-3.7M507.30,0.9v3.7M60.5,268.40h3.7M517.1,268.40h-3.7M60.5,254.26h2.0M517.1,254.26h-2.0M60.5,240.12h2.0M517.1,240.12h-2.0M60.5,225.99h2.0M517.1,225.99h-2.0M60.5,211.85h3.7M517.1,211.85h-3.7M60.5,197.71h2.0M517.1,197.71h-2.0M60.5,183.57h2.0M517.1,183.57h-2.0M60.5,169.44h2.0M517.1,169.44h-2.0M60.5,155.30h3.7M517.1,155.30h-3.7M60.5,141.16h2.0M517.1,141.16h-2.0M60.5,127.02h2.0M517.1,127.02h-2.0M60.5,112.89h2.0M517.1,112.89h-2.0M60.5,98.75h3.7M517.1,98.75h-3.7M60.5,84.61h2.0M517.1,84.61h-2.0M60.5,70.47h2.0M517.1,70.47h-2.0M60.5,56.34h2.0M517.1,56.34h-2.0M60.5,42.20h3.7M517.1,42.20h-3.7M60.5,28.06h2.0M517.1,28.06h-2.0M60.5,13.92h2.0M517.1,13.92h-2.0" stroke="#000" stroke-width="1.5" fill="none"/>
<text x="57.0" y="267.40" font-size="23.5" text-anchor="end" dominant-baseline="central">0.0</text>
<text x="57.0" y="210.85" font-size="23.5" text-anchor="end" dominant-baseline="central">0.2</text>
<text x="57.0" y="154.30" font-size="23.5" text-anchor="end" dominant-baseline="central">0.4</text>
<text x="57.0" y="97.75" font-size="23.5" text-anchor="end" dominant-baseline="central">0.6</text>
<text x="57.0" y="41.20" font-size="23.5" text-anchor="end" dominant-baseline="central">0.8</text>
<text x="69.80" y="304.0" font-size="23.5" text-anchor="middle">0.0</text>
<text x="179.18" y="304.0" font-size="23.5" text-anchor="middle">0.5</text>
<text x="288.55" y="304.0" font-size="23.5" text-anchor="middle">1.0</text>
<text x="397.93" y="304.0" font-size="23.5" text-anchor="middle">1.5</text>
<text x="507.30" y="304.0" font-size="23.5" text-anchor="middle">2.0</text>
<text x="288.3" y="336.5" font-size="24" font-style="italic" style="font-weight:bold" text-anchor="middle">η</text>
<text transform="translate(17.3,160.7) rotate(-90) scale(1.22,1)" font-size="22" font-style="italic">θ</text>
<text transform="translate(17.3,150.3) rotate(-90) scale(1.1,0.95)" font-size="22" font-style="italic">(η)</text>
<path d="M572.8,117.15H589.3" stroke="#ff00ff" stroke-width="1.6"/>
<text x="599.5" y="121.15" font-size="23">Nb</text>
<path d="M635.0,111.85H647.8M635.0,117.65H647.8" stroke="#000" stroke-width="1.9"/>
<text x="654.0" y="121.15" font-size="23">0.2</text>
<path d="M572.8,154.86H589.3" stroke="#ff0000" stroke-width="1.6"/>
<text x="599.5" y="158.86" font-size="23">Nb</text>
<path d="M635.0,149.56H647.8M635.0,155.36H647.8" stroke="#000" stroke-width="1.9"/>
<text x="654.0" y="158.86" font-size="23">0.4</text>
<path d="M572.8,192.57H589.3" stroke="#0000ff" stroke-width="1.6"/>
<text x="599.5" y="196.57" font-size="23">Nb</text>
<path d="M635.0,187.27H647.8M635.0,193.07H647.8" stroke="#000" stroke-width="1.9"/>
<text x="654.0" y="196.57" font-size="23">0.6</text>
<path d="M572.8,230.28H589.3" stroke="#000000" stroke-width="1.6"/>
<text x="599.5" y="234.28" font-size="23">Nb</text>
<path d="M635.0,224.98H647.8M635.0,230.78H647.8" stroke="#000" stroke-width="1.9"/>
<text x="654.0" y="234.28" font-size="23">0.8</text>
</svg></body></html>
